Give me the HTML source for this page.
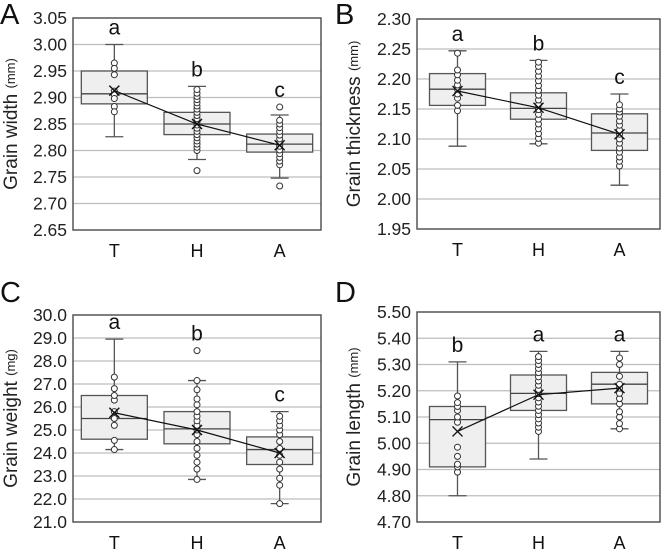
<!DOCTYPE html>
<html><head><meta charset="utf-8"><style>
body{margin:0;background:#fff;}
svg{display:block;font-family:"Liberation Sans",Arial,sans-serif;}
</style></head><body>
<svg id="fig" width="667" height="552" viewBox="0 0 667 552"></svg>
<script>
const categories=["T","H","A"];
// Panel A: grain width
const aWhiskerLo=[2.826,2.783,2.748], aWhiskerHi=[3.000,2.921,2.867];
const aQ1=[2.888,2.830,2.797], aMedian=[2.907,2.850,2.812], aQ3=[2.950,2.872,2.831], aMean=[2.913,2.850,2.810];
const aPoints=[[2.965,2.955,2.943,2.912,2.905,2.898,2.883,2.873],
 [2.762,2.800,2.806,2.812,2.818,2.824,2.830,2.836,2.842,2.848,2.854,2.860,2.866,2.872,2.878,2.884,2.890,2.896,2.902,2.908,2.915],
 [2.733,2.773,2.780,2.787,2.794,2.801,2.808,2.815,2.822,2.829,2.836,2.843,2.850,2.857,2.882]];
const aLetters=["a","b","c"];
const aTicks=["2.65","2.70","2.75","2.80","2.85","2.90","2.95","3.00","3.05"];
// Panel B: grain thickness
const bWhiskerLo=[2.088,2.092,2.023], bWhiskerHi=[2.247,2.231,2.175];
const bQ1=[2.156,2.133,2.081], bMedian=[2.183,2.151,2.110], bQ3=[2.209,2.177,2.142], bMean=[2.180,2.152,2.108];
const bPoints=[[2.147,2.156,2.168,2.175,2.183,2.190,2.198,2.207,2.215,2.243],
 [2.093,2.101,2.109,2.117,2.125,2.133,2.141,2.149,2.157,2.165,2.173,2.181,2.189,2.197,2.205,2.213,2.221,2.228],
 [2.055,2.063,2.070,2.078,2.085,2.093,2.100,2.108,2.115,2.123,2.130,2.138,2.145,2.150,2.157]];
const bLetters=["a","b","c"];
const bTicks=["1.95","2.00","2.05","2.10","2.15","2.20","2.25","2.30"];
// Panel C: grain weight
const cWhiskerLo=[24.15,22.85,21.8], cWhiskerHi=[28.95,27.15,25.8];
const cQ1=[24.6,24.4,23.5], cMedian=[25.5,25.05,24.15], cQ3=[26.5,25.8,24.7], cMean=[25.75,25.0,24.0];
const cPoints=[[24.15,24.55,25.2,25.5,25.8,26.3,26.5,26.8,27.3],
 [22.85,23.3,23.6,23.9,24.2,24.5,24.8,25.0,25.2,25.4,25.6,25.8,26.1,26.35,26.75,27.15,28.45],
 [21.8,22.6,22.9,23.3,23.6,23.9,24.2,24.5,24.8,25.0,25.2,25.4,25.6]];
const cLetters=["a","b","c"];
const cTicks=["21.0","22.0","23.0","24.0","25.0","26.0","27.0","28.0","29.0","30.0"];
// Panel D: grain length
const dWhiskerLo=[4.80,4.94,5.055], dWhiskerHi=[5.31,5.35,5.35];
const dQ1=[4.91,5.125,5.15], dMedian=[5.09,5.19,5.225], dQ3=[5.14,5.26,5.27], dMean=[5.045,5.185,5.21];
const dPoints=[[4.89,4.91,4.92,4.95,4.985,5.08,5.10,5.125,5.14,5.155,5.18],
 [5.045,5.061,5.077,5.093,5.109,5.125,5.141,5.157,5.173,5.189,5.205,5.221,5.237,5.253,5.269,5.285,5.30,5.315,5.33],
 [5.055,5.075,5.10,5.12,5.15,5.17,5.19,5.21,5.225,5.255,5.30,5.325]];
const dLetters=["b","a","a"];
const dTicks=["4.70","4.80","4.90","5.00","5.10","5.20","5.30","5.40","5.50"];

const NS="http://www.w3.org/2000/svg";
const svg=document.getElementById('fig');
function mk(tag,attrs,parent,text){const e=document.createElementNS(NS,tag);for(const k in attrs)e.setAttribute(k,attrs[k]);if(text!==undefined)e.textContent=text;parent.appendChild(e);return e;}

const panels=[
 {id:"a",letter:"A",title:"Grain width",x0:73,x1:321,y0:18,y1:230,lx:0,ly:22,tx:12,
  lo:aWhiskerLo,hi:aWhiskerHi,q1:aQ1,med:aMedian,q3:aQ3,mean:aMean,pts:aPoints,let:aLetters,ticks:aTicks,hw:33},
 {id:"b",letter:"B",title:"Grain thickness",x0:417,x1:660,y0:19,y1:229,lx:335,ly:22,tx:355,
  lo:bWhiskerLo,hi:bWhiskerHi,q1:bQ1,med:bMedian,q3:bQ3,mean:bMean,pts:bPoints,let:bLetters,ticks:bTicks,hw:28},
 {id:"c",letter:"C",title:"Grain weight",x0:73,x1:321,y0:315,y1:522,lx:0,ly:300,tx:12,unit:"(mg)",
  lo:cWhiskerLo,hi:cWhiskerHi,q1:cQ1,med:cMedian,q3:cQ3,mean:cMean,pts:cPoints,let:cLetters,ticks:cTicks,hw:33},
 {id:"d",letter:"D",title:"Grain length",x0:417,x1:660,y0:312,y1:522,lx:335,ly:300,tx:355,
  lo:dWhiskerLo,hi:dWhiskerHi,q1:dQ1,med:dMedian,q3:dQ3,mean:dMean,pts:dPoints,let:dLetters,ticks:dTicks,hw:28}
];

panels.forEach(p=>{
  const g=mk('g',{},svg);
  
  
  const vmin=parseFloat(p.ticks[0]), vmax=parseFloat(p.ticks[p.ticks.length-1]);
  const y=v=>p.y1-(v-vmin)/(vmax-vmin)*(p.y1-p.y0);
  const band=(p.x1-p.x0)/categories.length;
  const x=i=>p.x0+band*(i+0.5);
  // panel letter
  const pl=mk('text',{x:p.lx,y:p.ly+2,'font-size':29,fill:'#111'},g,p.letter);
  
  
  // grid + ticks
  p.ticks.forEach(t=>{
    const v=parseFloat(t), yy=y(v);
    if(v>vmin && v<vmax){
      const gl=mk('line',{x1:p.x0,x2:p.x1,y1:yy,y2:yy,stroke:'#bdbdbd','stroke-width':1.2},g);
      
      
    }
    const tl=mk('text',{x:p.x0-6,y:yy+6,'font-size':17.5,'text-anchor':'end',fill:'#222'},g,t);
    
    
  });
  const fr=mk('rect',{x:p.x0,y:p.y0,width:p.x1-p.x0,height:p.y1-p.y0,fill:'none',stroke:'#555','stroke-width':1.5},g);
  
  
  // y title
  const cy=(p.y0+p.y1)/2;
  const yt=mk('text',{x:p.tx,y:cy,'font-size':19,'text-anchor':'middle',fill:'#222',transform:`rotate(-90 ${p.tx} ${cy})`,'dominant-baseline':'middle'},g);
  
  
  mk('tspan',{},yt,p.title+' ');
  mk('tspan',{'font-size':13},yt,p.unit||'(mm)');
  // boxes
  categories.forEach((c,i)=>{
    const cx=x(i);
    const bg=mk('g',{},g);
    
    
    mk('line',{x1:cx,x2:cx,y1:y(p.hi[i]),y2:y(p.lo[i]),stroke:'#555','stroke-width':1.3},bg);
    mk('line',{x1:cx-9,x2:cx+9,y1:y(p.hi[i]),y2:y(p.hi[i]),stroke:'#555','stroke-width':1.3},bg);
    mk('line',{x1:cx-9,x2:cx+9,y1:y(p.lo[i]),y2:y(p.lo[i]),stroke:'#555','stroke-width':1.3},bg);
    mk('rect',{x:cx-p.hw,y:y(p.q3[i]),width:2*p.hw,height:y(p.q1[i])-y(p.q3[i]),fill:'#efefef',stroke:'#555','stroke-width':1.3},bg);
    mk('line',{x1:cx-p.hw,x2:cx+p.hw,y1:y(p.med[i]),y2:y(p.med[i]),stroke:'#444','stroke-width':1.3},bg);
    p.pts[i].forEach(v=>{
      const pt=mk('circle',{cx:cx,cy:y(v),r:3,fill:'#fff',stroke:'#333','stroke-width':1},bg);
      
      
    });
    const top=Math.max(p.hi[i],...p.pts[i]);
    const lt=mk('text',{x:cx,y:y(top)-10,'font-size':21,'text-anchor':'middle',fill:'#111'},g,p.let[i]);
    
    
    const xl=mk('text',{x:cx,y:p.y1+27,'font-size':18,'text-anchor':'middle',fill:'#111'},g,c);
    
    
  });
  // mean line
  const ml=mk('polyline',{points:categories.map((c,i)=>x(i)+','+y(p.mean[i])).join(' '),fill:'none',stroke:'#111','stroke-width':1.2},g);
  
  
  categories.forEach((c,i)=>{
    const cx=x(i), my=y(p.mean[i]), s=5;
    const mm=mk('path',{d:`M${cx-s},${my-s}L${cx+s},${my+s}M${cx-s},${my+s}L${cx+s},${my-s}`,stroke:'#111','stroke-width':1.4},g);
    
    
  });
});
</script>
</body></html>
